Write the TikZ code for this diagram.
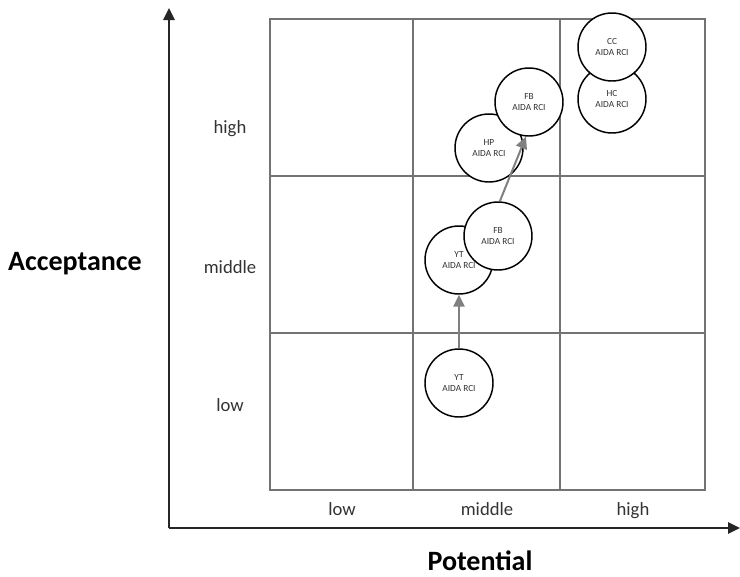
\documentclass[tikz,border=0pt]{standalone}
\usepackage{fontspec}
\setmainfont{Carlito}
\usepackage{tikz}
\usetikzlibrary{shapes, arrows, arrows.meta}
\tikzstyle{bubble} = [draw, circle, fill=white, minimum size=51pt, inner sep=0pt, line width=1.1pt, align=center, text=black!80, font=\fontsize{7}{8}\selectfont]
\tikzstyle{level} = [text=black!80, text height=1.5ex, text depth=0.4ex, font=\fontsize{14}{16}\selectfont]
\tikzstyle{axislabel} = [inner sep=1pt, font=\fontsize{21}{24}\selectfont\bfseries]

\begin{document}
\begin{tikzpicture}[x=0.75pt, y=-0.75pt, >={Triangle[length=9pt, width=8.5pt]}]
        % 样式定义
        \tikzstyle{grid} = [draw=black!55, line width=0.9pt]
        \tikzstyle{axis} = [->, draw=black!85, line width=1.5pt]
        \tikzstyle{move} = [->, draw=black!50, line width=1.5pt]
        \useasboundingbox (0,0) rectangle (740,576);

        % 网格
        \draw [grid] (270,19) rectangle (705,490);
        \draw [grid] (413,19) -- (413,490);
        \draw [grid] (560,19) -- (560,490);
        \draw [grid] (270,176) -- (705,176);
        \draw [grid] (270,333) -- (705,333);

        % 坐标轴
        \coordinate (origin) at (169,528);
        \coordinate (ytip) at (169,8);
        \coordinate (xtip) at (740,528);
        \draw [axis] (origin) -- (ytip);
        \draw [axis] (origin) -- (xtip);

        % 刻度文字
        \node [level] (acclow) at (230,408) {low};
        \node [level] (accmid) at (230,270) {middle};
        \node [level] (acchigh) at (230,130) {high};
        \node [level] (potlow) at (342,512) {low};
        \node [level] (potmid) at (487,512) {middle};
        \node [level] (pothigh) at (633,512) {high};
        \node [axislabel] (acc) at (75,264) {Acceptance};
        \node [axislabel] (pot) at (480,561) {Potential};

        % 放置节点
        \node [bubble] (ytlow) at (459,383) {YT\\AIDA RCI};
        \node [bubble] (ytmid) at (459,260) {YT\\AIDA RCI};
        \node [bubble] (fbmid) at (498,236) {FB\\AIDA RCI};
        \node [bubble] (hp) at (489,148) {HP\\AIDA RCI};
        \node [bubble] (fbhigh) at (529,102) {FB\\AIDA RCI};
        \node [bubble] (hc) at (612,99) {HC\\AIDA RCI};
        \node [bubble] (cc) at (612,47) {CC\\AIDA RCI};

        % 变化
        \draw [move] (ytlow) -- (ytmid);
        \draw [move] (fbmid.87) -- (fbhigh.265);
    \end{tikzpicture}
\end{document}
